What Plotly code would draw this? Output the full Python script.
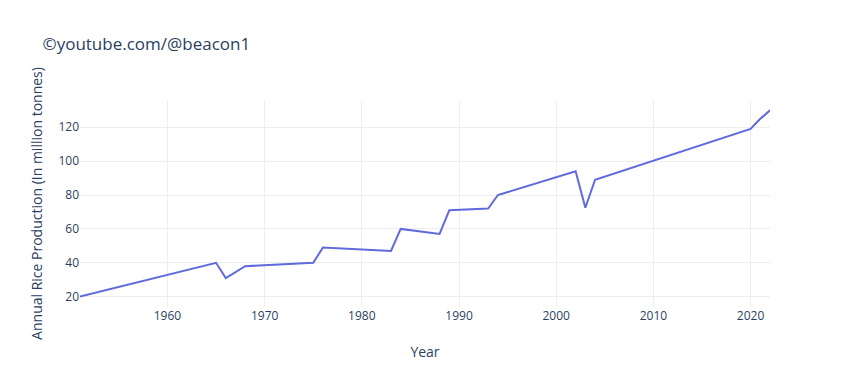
import plotly.graph_objects as go

years = [1951, 1965, 1966, 1968, 1975, 1976, 1983, 1984, 1988, 1989, 1993, 1994, 2002, 2003, 2004, 2020, 2021, 2022]
production = [20, 40, 31, 38, 40, 49, 47, 60, 57, 71, 72, 80, 94, 72.5, 89, 119, 125, 130]

fig = go.Figure(go.Scatter(x=years, y=production, mode="lines", line=dict(color="#5f6bdc", width=2)))
fig.update_layout(
    template="plotly_white",
    title=dict(text="©youtube.com/@beacon1"),
    width=850, height=387,
    margin=dict(l=80, r=80, t=100, b=80),
)
fig.update_xaxes(title=dict(text="Year", standoff=24), gridcolor="#eeeeee", automargin=False)
fig.update_yaxes(title=dict(text="Annual Rice Production (In million tonnes)", standoff=12),
                 gridcolor="#eeeeee", automargin=False)
fig.write_html("out.html", config={"displayModeBar": False},
               post_script="document.body.style.margin='0';")
